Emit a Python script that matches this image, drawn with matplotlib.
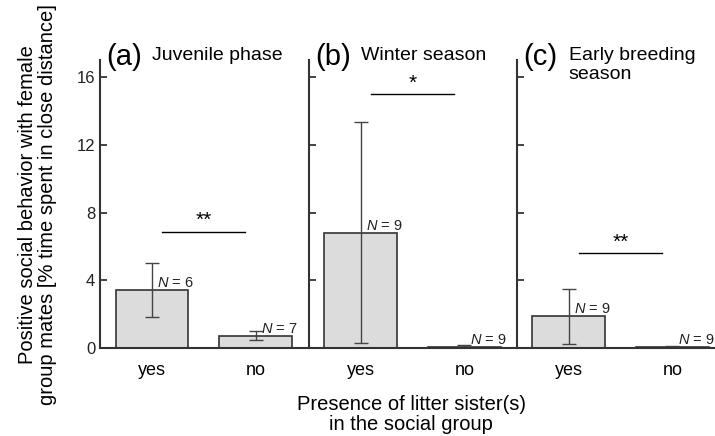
import matplotlib.pyplot as plt

plt.rcParams['font.family'] = ['Liberation Sans', 'DejaVu Sans']
plt.rcParams['mathtext.fontset'] = 'custom'
plt.rcParams['mathtext.it'] = 'Liberation Sans:italic'
plt.rcParams['mathtext.rm'] = 'Liberation Sans'

categories = ['yes', 'no']
panel_letters = ['(a)', '(b)', '(c)']
panel_titles = ['Juvenile phase', 'Winter season', 'Early breeding\nseason']
means = [[3.4, 0.72], [6.8, 0.05], [1.9, 0.03]]
err_low = [[1.82, 0.47], [0.3, 0.0], [0.25, 0.0]]
err_high = [[5.0, 1.02], [13.35, 0.15], [3.5, 0.1]]
sample_n = [[6, 7], [9, 9], [9, 9]]
signif = ['**', '*', '**']
signif_y = [6.85, 15.0, 5.6]
yticks = [0, 4, 8, 12, 16]

fig = plt.figure(figsize=(7.15, 4.36), dpi=100)
lefts = [0.140, 0.432, 0.723]
w = 0.290
for i in range(3):
    ax = fig.add_axes([lefts[i], 0.202, w, 0.66])
    x = [0, 1]
    ax.bar(x, means[i], width=0.7, color='#dcdcdc', edgecolor='#333333', linewidth=1.2)
    lo = [m - l for m, l in zip(means[i], err_low[i])]
    hi = [h - m for m, h in zip(means[i], err_high[i])]
    ax.errorbar(x, means[i], yerr=[lo, hi], fmt='none', ecolor='#444444',
                elinewidth=1, capsize=5, capthick=1)
    for j in range(2):
        ax.text(x[j] + 0.05, max(means[i][j], 0.05), r'$N$ = %d' % sample_n[i][j],
                fontsize=10.5, ha='left', va='bottom', color='#222222')
    ax.plot([0.1, 0.9], [signif_y[i], signif_y[i]], color='black', lw=1)
    ax.text(0.5, signif_y[i] + 0.1, signif[i], ha='center', va='bottom',
            fontsize=15)
    ax.set_xlim(-0.5, 1.5)
    ax.set_ylim(0, 17)
    ax.set_xticks(x)
    ax.set_xticklabels(categories, fontsize=13)
    ax.tick_params(axis='x', length=0, pad=10)
    ax.set_yticks(yticks)
    ax.tick_params(axis='y', direction='in', length=5, width=1.2, labelsize=12,
                   colors='#222222')
    if i > 0:
        ax.set_yticklabels([])
    for s in ['top', 'right']:
        ax.spines[s].set_visible(False)
    for s in ['left', 'bottom']:
        ax.spines[s].set_linewidth(1.5)
        ax.spines[s].set_color('#333333')
    ax.text(0.03, 1.01, panel_letters[i], transform=ax.transAxes, fontsize=21,
            ha='left', va='center')
    ax.text(0.25, 1.045, panel_titles[i], transform=ax.transAxes, fontsize=14,
            ha='left', va='top', linespacing=1.15)

fig.text(0.052, 0.53, 'Positive social behavior with female\n'
         'group mates [% time spent in close distance]',
         rotation=90, ha='center', va='center', fontsize=14.5, linespacing=1.05)
fig.text(0.575, 0.05, 'Presence of litter sister(s)\nin the social group',
         ha='center', va='center', fontsize=14.5, linespacing=1.05)

fig.savefig('out.png', dpi=100)
